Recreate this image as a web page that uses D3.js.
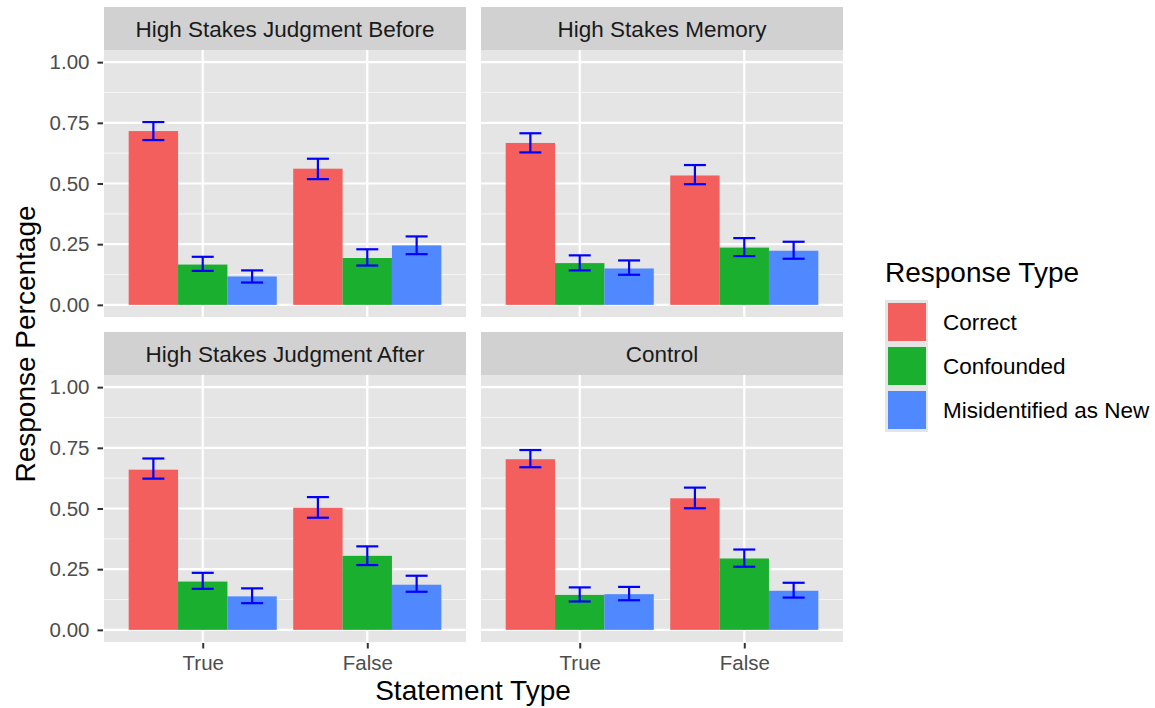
<!DOCTYPE html>
<html>
<head>
<meta charset="utf-8">
<script src="https://cdn.jsdelivr.net/npm/d3@7"></script>
<style>
  body { margin: 0; background: #fff; }
  text { font-family: "Liberation Sans", Arial, Helvetica, sans-serif; }
</style>
</head>
<body>
<svg id="chart" width="1155" height="708"></svg>
<script>
// facets in reading order
const panels = ['High Stakes Judgment Before', 'High Stakes Memory', 'High Stakes Judgment After', 'Control']
const statementTypes = ['True', 'False']
const responseTypes = ['Correct', 'Confounded', 'Misidentified as New']
const yTicks = [0, 0.25, 0.5, 0.75, 1]

// mean response percentage: panel -> [True x 3 types, False x 3 types]
const means = [
  [0.716, 0.166, 0.117, 0.561, 0.193, 0.245],
  [0.667, 0.172, 0.150, 0.533, 0.236, 0.223],
  [0.660, 0.199, 0.138, 0.503, 0.305, 0.186],
  [0.703, 0.144, 0.147, 0.542, 0.294, 0.161],
]
const lower = [
  [0.679, 0.140, 0.092, 0.518, 0.162, 0.209],
  [0.628, 0.142, 0.124, 0.497, 0.201, 0.190],
  [0.623, 0.169, 0.110, 0.462, 0.267, 0.157],
  [0.670, 0.117, 0.122, 0.501, 0.260, 0.133],
]
const upper = [
  [0.753, 0.198, 0.142, 0.602, 0.229, 0.282],
  [0.707, 0.204, 0.183, 0.576, 0.275, 0.260],
  [0.706, 0.235, 0.171, 0.547, 0.344, 0.223],
  [0.741, 0.175, 0.177, 0.586, 0.331, 0.194],
]
const colors = ['#F25F5C', '#1AAF2E', '#5088FF']

const svg = d3.select('#chart')

const c = {
  cols: [104, 481],
  rows: [7, 332],
  panelWidth: 362,
  stripHeight: 43,
  bodyHeight: 267,
  dodge: 0.9,
  tickFont: 20.5,
}

const color = d3.scaleOrdinal(responseTypes, colors)

panels.forEach((name, p) => {
  const x0 = c.cols[p % 2]
  const top = c.rows[Math.floor(p / 2)]
  const bodyTop = top + c.stripHeight
  const g = svg.append('g')

  // x: discrete positions with ggplot 0.6 expansion
  const xPos = d3.scaleLinear([0.4, 2.6], [x0, x0 + c.panelWidth])
  const y = d3.scaleLinear([-0.05, 1.05], [bodyTop + c.bodyHeight, bodyTop])

  // strip
  g.append('rect')
    .attr('x', x0).attr('y', top)
    .attr('width', c.panelWidth).attr('height', c.stripHeight)
    .attr('fill', '#D1D1D1')
  g.append('text')
    .attr('x', x0 + c.panelWidth / 2)
    .attr('y', top + c.stripHeight / 2 + 8)
    .attr('text-anchor', 'middle')
    .attr('font-size', 22.5)
    .attr('fill', '#1A1A1A')
    .text(name)

  // panel background
  g.append('rect')
    .attr('x', x0).attr('y', bodyTop)
    .attr('width', c.panelWidth).attr('height', c.bodyHeight)
    .attr('fill', '#E5E5E5')

  // minor grid
  g.selectAll('line.minor')
    .data([0.125, 0.375, 0.625, 0.875])
    .join('line')
    .attr('x1', x0).attr('x2', x0 + c.panelWidth)
    .attr('y1', (d) => y(d)).attr('y2', (d) => y(d))
    .attr('stroke', '#F5F5F5').attr('stroke-width', 1.2)

  // major grid
  g.selectAll('line.major')
    .data(yTicks)
    .join('line')
    .attr('x1', x0).attr('x2', x0 + c.panelWidth)
    .attr('y1', (d) => y(d)).attr('y2', (d) => y(d))
    .attr('stroke', '#fff').attr('stroke-width', 2.2)

  g.selectAll('line.vgrid')
    .data(statementTypes)
    .join('line')
    .attr('x1', (d, i) => xPos(i + 1)).attr('x2', (d, i) => xPos(i + 1))
    .attr('y1', bodyTop).attr('y2', bodyTop + c.bodyHeight)
    .attr('stroke', '#fff').attr('stroke-width', 2.2)

  // bars
  const barW = (xPos(1 + c.dodge) - xPos(1)) / responseTypes.length
  const rows = []
  statementTypes.forEach((s, si) => {
    responseTypes.forEach((r, ri) => {
      const k = si * 3 + ri
      const left = xPos(si + 1 - c.dodge / 2) + ri * barW
      rows.push({ s, r, left, mean: means[p][k], lo: lower[p][k], hi: upper[p][k] })
    })
  })

  g.selectAll('rect.bar')
    .data(rows)
    .join('rect')
    .attr('x', (d) => d.left)
    .attr('y', (d) => y(d.mean))
    .attr('width', barW)
    .attr('height', (d) => y(0) - y(d.mean))
    .attr('fill', (d) => color(d.r))

  // error bars
  const capHalf = 11
  const eb = g.selectAll('g.err')
    .data(rows)
    .join('g')
    .attr('stroke', '#0000FF')
    .attr('stroke-width', 2.2)
  eb.append('line')
    .attr('x1', (d) => d.left + barW / 2).attr('x2', (d) => d.left + barW / 2)
    .attr('y1', (d) => y(d.lo)).attr('y2', (d) => y(d.hi))
  eb.append('line')
    .attr('x1', (d) => d.left + barW / 2 - capHalf).attr('x2', (d) => d.left + barW / 2 + capHalf)
    .attr('y1', (d) => y(d.lo)).attr('y2', (d) => y(d.lo))
  eb.append('line')
    .attr('x1', (d) => d.left + barW / 2 - capHalf).attr('x2', (d) => d.left + barW / 2 + capHalf)
    .attr('y1', (d) => y(d.hi)).attr('y2', (d) => y(d.hi))

  // y axis on left column
  if (p % 2 === 0) {
    const yAxis = d3.axisLeft(y).tickValues(yTicks).tickFormat(d3.format('.2f')).tickSize(5.5).tickPadding(8)
    const ax = g.append('g').attr('transform', `translate(${ x0 - 1 },0)`).call(yAxis)
    ax.attr('font-size', c.tickFont).attr('font-family', '"Liberation Sans", Arial, sans-serif')
    ax.select('.domain').remove()
    ax.selectAll('.tick line').attr('stroke', '#333').attr('stroke-width', 2)
    ax.selectAll('.tick text').attr('fill', '#4D4D4D')
  }

  // x axis on bottom row
  if (p >= 2) {
    const xBand = d3.scalePoint(statementTypes, [xPos(1), xPos(2)])
    const xAxis = d3.axisBottom(xBand).tickSize(5.5).tickPadding(7)
    const ax = g.append('g').attr('transform', `translate(0,${ bodyTop + c.bodyHeight + 1 })`).call(xAxis)
    ax.attr('font-size', c.tickFont).attr('font-family', '"Liberation Sans", Arial, sans-serif')
    ax.select('.domain').remove()
    ax.selectAll('.tick line').attr('stroke', '#333').attr('stroke-width', 2)
    ax.selectAll('.tick text').attr('fill', '#4D4D4D')
  }
})

// axis titles
svg.append('text')
  .attr('x', 473).attr('y', 700)
  .attr('text-anchor', 'middle')
  .attr('font-size', 28)
  .text('Statement Type')

svg.append('text')
  .attr('transform', 'translate(35,344) rotate(-90)')
  .attr('text-anchor', 'middle')
  .attr('font-size', 28)
  .text('Response Percentage')

// legend
const legend = svg.append('g').attr('transform', 'translate(885,0)')
legend.append('text')
  .attr('x', 0).attr('y', 282)
  .attr('font-size', 28)
  .text('Response Type')

const keys = legend.selectAll('g.key')
  .data(responseTypes)
  .join('g')
  .attr('transform', (d, i) => `translate(0,${ 300 + i * 44 })`)
keys.append('rect')
  .attr('width', 43).attr('height', 44)
  .attr('fill', '#E5E5E5')
keys.append('rect')
  .attr('x', 3).attr('y', 3)
  .attr('width', 38).attr('height', 38)
  .attr('fill', (d) => color(d))
keys.append('text')
  .attr('x', 58).attr('y', 30)
  .attr('font-size', 22.5)
  .text((d) => d)
</script>
</body>
</html>
